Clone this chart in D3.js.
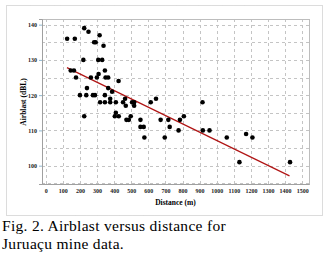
<!DOCTYPE html>
<html>
<head>
<meta charset="utf-8">
<script src="https://cdn.jsdelivr.net/npm/d3@7"></script>
<style>
  body { margin: 0; background: #fff; }
  svg { display: block; }
</style>
</head>
<body>
<div id="plot-container"></div>
<script>
// distance (m) and airblast (dBL)
const distance = [125, 170, 225, 250, 315, 283, 292, 338, 220, 307, 330, 146, 165, 177, 309, 346,
    264, 299, 350, 365, 426, 241, 365, 200, 237, 276, 288, 346, 388, 377, 318, 346, 377, 410,
    464, 452, 468, 225, 410, 404, 427, 472, 486, 505, 517, 517, 497, 554, 554, 573, 577, 614,
    645, 672, 717, 725, 696, 777, 785, 808, 917, 919, 958, 1059, 1172, 1209, 1133, 1429];
const airblast = [136, 136, 139, 138, 137, 135, 135, 134, 130, 130, 130, 127, 127, 125, 126, 127,
    125, 125, 125, 125, 124, 122, 122, 120, 120, 120, 120, 120, 121, 119, 118, 118, 118, 118,
    119, 118, 117, 114, 115, 114, 114, 113, 113, 118, 118, 117, 114, 113, 111, 111, 108, 118,
    119, 113, 113, 111, 108, 110, 113, 114, 118, 110, 110, 108, 109, 108, 101, 101];
const trend = [[124, 127.8], [1426, 97.1]];

const xTicks = d3.range(0, 1501, 100);
const yTicks = [100, 110, 120, 130, 140];
const yGrid = d3.range(95, 141, 5);

const points = distance.map((d, i) => ({ x: d, y: airblast[i] }));

const W = 327, H = 257;
const margin = { top: 19, right: 18, bottom: 73, left: 42 };
const width = W - margin.left - margin.right;
const height = H - margin.top - margin.bottom;

const root = d3.select("#plot-container")
    .append("svg")
    .attr("width", W)
    .attr("height", H);

// outer dotted frame
root.append("rect")
    .attr("x", 6.5).attr("y", 5.5)
    .attr("width", 316).attr("height", 210)
    .attr("fill", "none")
    .attr("stroke", "#b8b8b8")
    .attr("stroke-dasharray", "1,1");

const svg = root.append("g")
    .attr("transform", "translate(" + margin.left + "," + margin.top + ")");

const x = d3.scaleLinear().domain([-22, 1540]).range([0, width]);
const y = d3.scaleLinear().domain([94.8, 141.6]).range([height, 0]);

// gridlines
svg.append("g").selectAll("line")
    .data(xTicks)
    .enter().append("line")
    .attr("x1", d => Math.round(x(d)) + 0.5)
    .attr("x2", d => Math.round(x(d)) + 0.5)
    .attr("y1", 0).attr("y2", height)
    .attr("stroke", "#c4c4c4")
    .attr("stroke-dasharray", "3,3");

svg.append("g").selectAll("line")
    .data(yGrid)
    .enter().append("line")
    .attr("y1", d => Math.round(y(d)) + 0.5)
    .attr("y2", d => Math.round(y(d)) + 0.5)
    .attr("x1", 0).attr("x2", width)
    .attr("stroke", "#c4c4c4")
    .attr("stroke-dasharray", "3,3");

svg.append("rect")
    .attr("x", 0.5).attr("y", 0.5)
    .attr("width", width).attr("height", height)
    .attr("fill", "none")
    .attr("stroke", "#bdbdbd");

// axes
const xAxis = svg.append("g")
    .attr("transform", "translate(0," + height + ")")
    .call(d3.axisBottom(x).tickValues(xTicks).tickFormat(d3.format("d")).tickSize(0).tickPadding(5));
const yAxis = svg.append("g")
    .call(d3.axisLeft(y).tickValues(yTicks).tickSize(3).tickPadding(2));

[xAxis, yAxis].forEach(a => {
    a.select(".domain").attr("stroke", "#a0a0a0");
    a.selectAll(".tick line").attr("stroke", "#8fb8d0");
    a.selectAll("text")
        .attr("font-family", "Liberation Serif, serif")
        .attr("font-size", 6)
        .attr("font-weight", "bold")
        .attr("fill", "#222");
});

svg.append("text")
    .attr("text-anchor", "middle")
    .attr("x", width / 2)
    .attr("y", height + 21)
    .attr("font-family", "Liberation Serif, serif")
    .attr("font-size", 7.5)
    .attr("font-weight", "bold")
    .text("Distance (m)");

svg.append("text")
    .attr("text-anchor", "middle")
    .attr("x", -(102 - margin.top))
    .attr("y", -16)
    .attr("transform", "rotate(-90)")
    .attr("font-family", "Liberation Serif, serif")
    .attr("font-size", 7.5)
    .attr("font-weight", "bold")
    .text("Airblast (dBL)");

// trend line
svg.append("path")
    .datum(trend)
    .attr("fill", "none")
    .attr("stroke", "#b01414")
    .attr("stroke-width", 1.2)
    .attr("d", d3.line().x(d => x(d[0])).y(d => y(d[1])));

svg.selectAll("circle")
    .data(points)
    .enter()
    .append("circle")
    .attr("cx", d => x(d.x))
    .attr("cy", d => y(d.y))
    .attr("r", 2.3)
    .attr("fill", "#000");

// caption
const caption = root.append("text")
    .attr("font-family", "Liberation Serif, serif")
    .attr("font-size", 15.5)
    .attr("letter-spacing", 0.3)
    .attr("fill", "#000");
caption.append("tspan").attr("x", 2).attr("y", 231).text("Fig. 2. Airblast versus distance for");
caption.append("tspan").attr("x", 2).attr("y", 249).text("Juruaçu mine data.");
</script>
</body>
</html>
